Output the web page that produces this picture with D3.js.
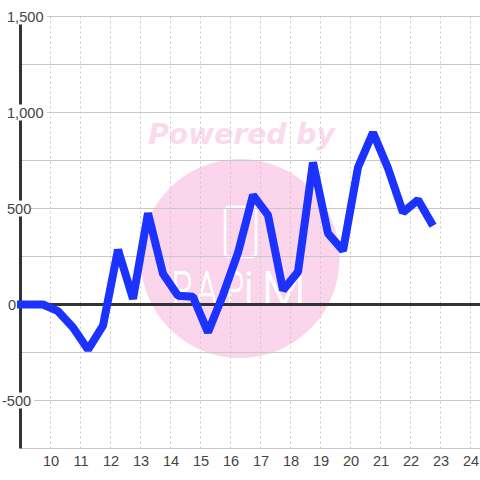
<!DOCTYPE html>
<html><head><meta charset="utf-8">
<script src="https://cdn.jsdelivr.net/npm/d3@7"></script>
<style>html,body{margin:0;padding:0;background:#fff}svg{display:block}</style>
</head><body><svg id="c" width="480" height="480"></svg>
<script>
const hours=[8.75,9.25,9.75,10.25,10.75,11.25,11.75,12.25,12.75,13.25,13.75,14.25,14.75,15.25,15.75,16.25,16.75,17.25,17.75,18.25,18.75,19.25,19.75,20.25,20.75,21.25,21.75,22.25,22.75];
const values=[0,0,0,-35,-120,-235,-110,285,30,475,160,45,40,-145,50,270,570,465,75,170,740,370,280,715,895,710,480,545,410];
const xTicks=[10,11,12,13,14,15,16,17,18,19,20,21,22,23,24];
const yGrid=[-750,-250,250,750,1250];
const yLabels=[{v:1500,t:"1,500",a:7},{v:1000,t:"1,000",a:7},{v:500,t:"500",a:7},{v:0,t:"0",a:8},{v:-500,t:"-500",a:2}];
const logoLetters=[{c:"P",x:172,s:0.72},{c:"A",x:197,s:0.72},{c:"P",x:227,s:0.6},{c:"i",x:244,s:1},{c:"M",x:262,s:1.1}];
const svg=d3.select("#c");
const x=d3.scaleLinear().domain([9,24]).range([20.5,470.5]);
const y=d3.scaleLinear().domain([1500,-750]).range([16.5,448.5]);
const defs=svg.append("defs");
defs.append("clipPath").attr("id","pc").append("rect").attr("x",17).attr("y",0).attr("width",463).attr("height",480);
// watermark
const wm=svg.append("g");
wm.append("text").attr("x",241.5).attr("y",144).attr("text-anchor","middle").attr("font-family","DejaVu Sans").attr("font-weight","bold").attr("font-style","italic").attr("font-size",28.2).attr("fill","#fbdaee").text("Powered by");
wm.append("circle").attr("cx",240).attr("cy",258.5).attr("r",99.5).attr("fill","#fbd5ec");
wm.append("rect").attr("x",225).attr("y",207).attr("width",31).attr("height",50).attr("rx",4).attr("fill","none").attr("stroke","#fff").attr("stroke-width",2.6);
wm.selectAll("text.l").data(logoLetters).join("text").attr("class","l")
  .attr("transform",d=>`translate(${d.x},305) scale(${d.s},1)`)
  .attr("font-family","Roboto").attr("font-weight",100).attr("font-size",46).attr("fill","#fff").attr("stroke","#fff").attr("stroke-width",2).text(d=>d.c);
// grid
const g=svg.append("g");
g.selectAll("line.v").data(xTicks).join("line").attr("x1",d=>x(d)).attr("x2",d=>x(d)).attr("y1",y(1500)).attr("y2",y(-750)).attr("stroke","#c8c8c8").attr("stroke-width",1).attr("stroke-dasharray","2,3");
g.selectAll("line.h").data(yLabels.map(d=>d.v).filter(v=>v!==0).concat(yGrid)).join("line").attr("x1",x(9)).attr("x2",480).attr("y1",d=>y(d)).attr("y2",d=>y(d)).attr("stroke","#c8c8c8").attr("stroke-width",1);
// axes
const ax=svg.append("g").attr("stroke","#333").attr("stroke-width",3);
ax.append("line").attr("x1",x(9)).attr("x2",x(9)).attr("y1",y(1500)).attr("y2",y(-750));
ax.append("line").attr("x1",x(9)).attr("x2",480).attr("y1",y(0)).attr("y2",y(0));
// series
svg.append("path").datum(d3.zip(hours,values)).attr("clip-path","url(#pc)").attr("fill","none").attr("stroke","#1c32ff").attr("stroke-width",8).attr("stroke-linejoin","bevel").attr("d",d3.line().x(d=>x(d[0])).y(d=>y(d[1])));
// labels
const lab=svg.append("g").attr("font-family","Liberation Sans").attr("font-size",14.6).attr("fill","#444");
const ly=lab.selectAll("g").data(yLabels).join("g");
ly.append("rect").attr("x",d=>d.a-1).attr("y",d=>y(d.v)-8).attr("width",d=>d.t.length*8+(d.v===0?0:1)).attr("height",16).attr("fill","#fff");
ly.append("text").attr("x",d=>d.a).attr("y",d=>y(d.v)+5).text(d=>d.t);
lab.selectAll("text.x").data(xTicks).join("text").attr("class","x").attr("x",d=>x(d)+0.5).attr("y",466).attr("text-anchor","middle").text(d=>d);
</script></body></html>
